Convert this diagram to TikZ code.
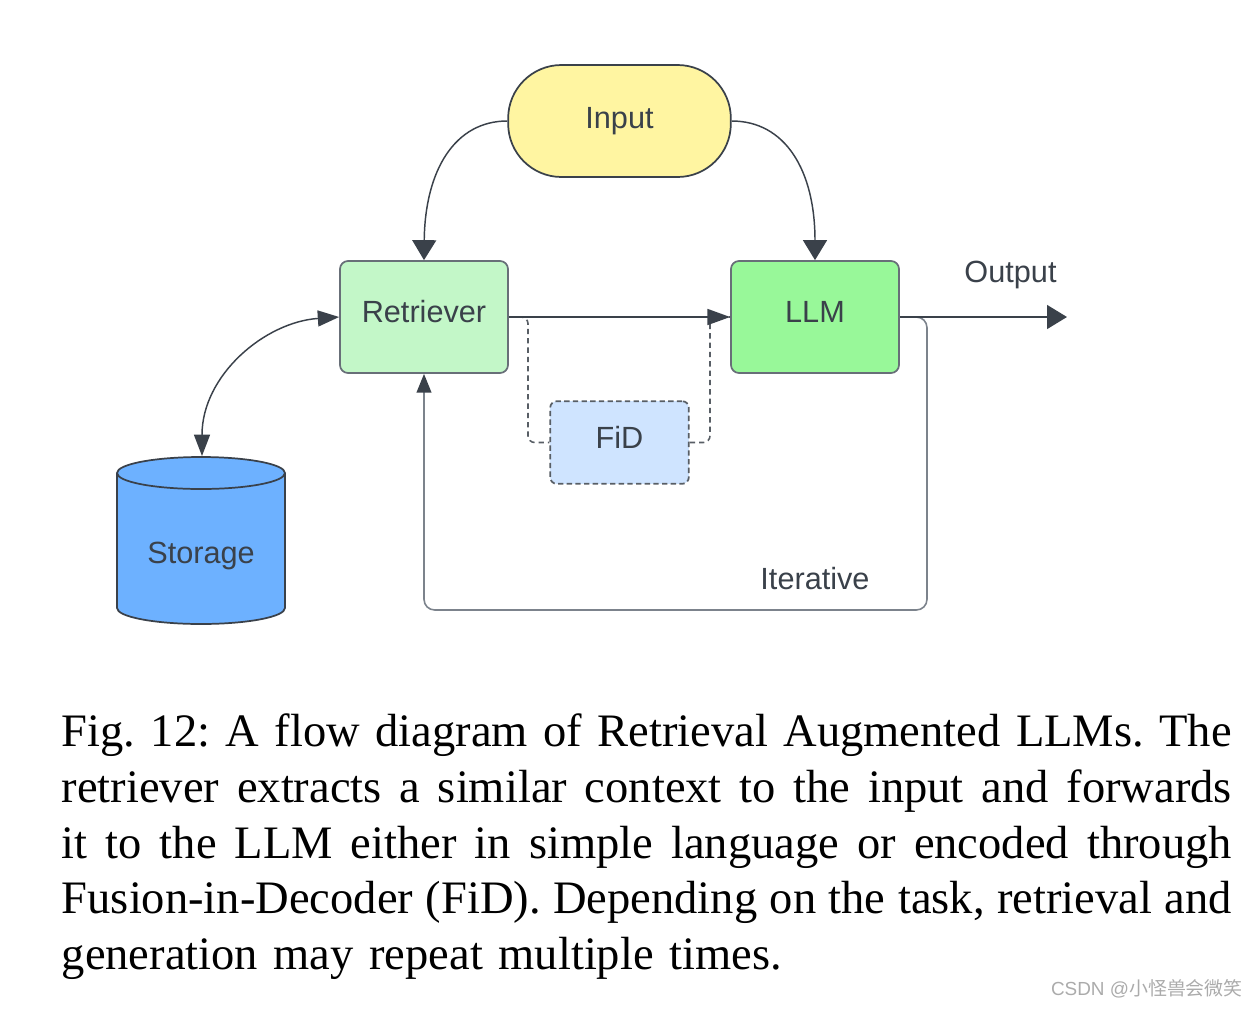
\documentclass[tikz,border=0pt]{standalone}
\usepackage{fontspec}
\setmainfont{Liberation Serif}
\newfontfamily\labelfont{Liberation Sans}
\newfontfamily\cjk{Noto Sans CJK SC}
\usetikzlibrary{arrows.meta}
\definecolor{inkdark}{HTML}{3A414A}
\definecolor{inkgray}{HTML}{7C838C}
\definecolor{inputfill}{HTML}{FFF5A1}
\definecolor{retrfill}{HTML}{C3F7C8}
\definecolor{llmfill}{HTML}{98F899}
\definecolor{fidfill}{HTML}{CFE4FF}
\definecolor{storefill}{HTML}{6DB1FF}
\tikzset{
  box/.style={draw=inkgray!70!inkdark,line width=1.3pt,rounded corners=6pt,minimum width=126pt,minimum height=84pt,inner sep=0pt,text=inkdark,font=\labelfont\fontsize{23}{26}\selectfont},
  tag/.style={inner sep=0pt,text=inkdark,font=\labelfont\fontsize{23}{26}\selectfont},
  link/.style={draw=inkdark,line width=1.1pt,-{Triangle[length=15pt,width=18pt]}},
  linkthin/.style={draw=inkdark,line width=1.1pt,-{Triangle[length=12pt,width=10pt]}},
  backlink/.style={draw=inkgray,line width=1.2pt,rounded corners=8pt,-{Triangle[length=14pt,width=11pt,color=inkdark]}},
  dashlink/.style={draw=inkdark!85,line width=1.2pt,dashed,dash pattern=on 4pt off 3pt,rounded corners=5pt},
  capline/.style={inner sep=0pt,anchor=base west,font=\fontsize{34.9}{40}\selectfont\frenchspacing},
}
\begin{document}
\begin{tikzpicture}[x=0.75pt,y=-0.75pt]
\useasboundingbox (0,0) rectangle (1258,1008);

% Storage drum
\draw[fill=storefill,draw=inkdark,line width=1.3pt]
  (117,473) -- (117,608) arc[start angle=180,end angle=0,x radius=84,y radius=16]
  -- (285,473) arc[start angle=0,end angle=-180,x radius=84,y radius=16] -- cycle;
\draw[draw=inkdark,line width=1.3pt] (117,473) arc[start angle=180,end angle=0,x radius=84,y radius=16];
\node[tag] (storage) at (201,556) {Storage};
\coordinate (storagetop) at (202,456);

% Process boxes
\node[box,fill=inputfill,minimum width=167pt,rounded corners=40pt,draw=inkdark] (input) at (619.5,121) {};
\node[tag] at (619.5,121) {Input};
\node[box,fill=retrfill] (retriever) at (424,317) {};
\node[tag] at (424,311.5) {Retriever};
\node[box,fill=llmfill] (llm) at (815,317) {};
\node[tag] at (815,311.5) {LLM};
\node[box,fill=fidfill,minimum width=104pt,minimum height=62pt,dashed,dash pattern=on 4pt off 2.5pt,rounded corners=5pt,draw=inkdark!85] (fid) at (619.5,442.5) {};
\node[tag] at (619.5,437) {FiD};

% Free labels and helper points
\node[tag] (outputlabel) at (1010.5,275) {Output};
\node[tag] (iterlabel) at (815,579) {Iterative};
\coordinate (outend) at (1067,317);
\coordinate (iterright) at (927,610);
\coordinate (dashleft) at (528,442.5);
\coordinate (dashright) at (710,442.5);

% Connectors
\draw[link] (input.west) .. controls (455,121) and (425,170) .. (retriever.north);
\draw[link] (input.east) .. controls (785,121) and (815,170) .. (llm.north);
\draw[linkthin,{Triangle[length=16pt,width=12pt]}-{Triangle[length=16pt,width=12pt]}] (retriever.west) .. controls (265,322) and (202,375) .. (storagetop);
\draw[dashlink] (retriever.east) -| (dashleft) -- (fid.west);
\draw[dashlink] (fid.east) -- (dashright) |- (llm.west);
\draw[linkthin,-{Triangle[length=17pt,width=12pt]}] (retriever.east) -- (llm.west);
\draw[backlink] (llm.east) -| (iterright) -| (retriever.south);
\draw[linkthin,-{Triangle[length=15pt,width=18pt]}] (llm.east) -- (outend);

% Caption, set line by line to the full measure
\node[capline] (cap1) at (61.5,746) {\makebox[877.5pt][s]{Fig. 12: A flow diagram of Retrieval Augmented LLMs. The}};
\node[capline] (cap2) at (61.5,802) {\makebox[877.5pt][s]{retriever extracts a similar context to the input and forwards}};
\node[capline] (cap3) at (61.5,858) {\makebox[877.5pt][s]{it to the LLM either in simple language or encoded through}};
\node[capline] (cap4) at (61.5,913) {\makebox[877.5pt][s]{Fusion-in-Decoder (FiD). Depending on the task, retrieval and}};
\node[capline] (cap5) at (61.5,969) {\makebox[540pt][s]{generation may repeat multiple times.}};

% Site mark in the corner
\node[inner sep=0pt,anchor=east,text=black!33,font=\labelfont\fontsize{14.2}{17}\selectfont] (mark) at (1243,989) {CSDN @{\cjk 小怪兽会微笑}};
\end{tikzpicture}
\end{document}
